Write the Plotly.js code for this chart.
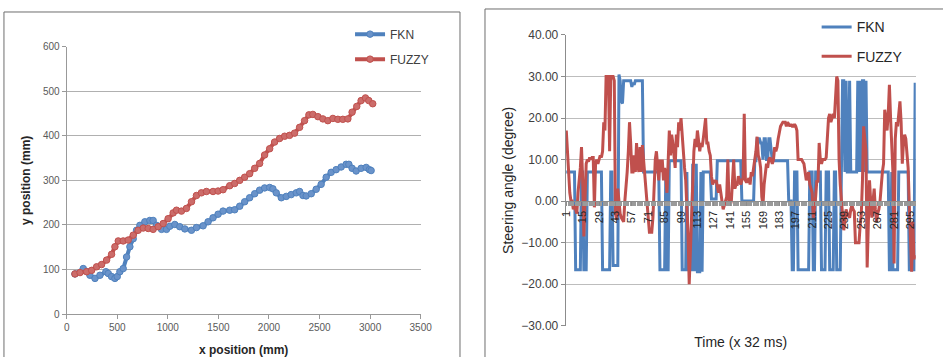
<!DOCTYPE html>
<html>
<head>
<meta charset="utf-8">
<script src="https://cdn.plot.ly/plotly-3.0.1.min.js"></script>
<style>html,body{margin:0;padding:0;background:#fff;}#chart{width:943px;height:357px;}</style>
</head>
<body>
<div id="chart"></div>
<script>
// ---- Left chart: trajectory (x position vs y position, mm) ----
const fknX = [82,164,204,230,280,329,388,411,444,477,500,526,559,592,625,658,691,724,773,822,855,888,938,987,1020,1069,1118,1168,1234,1283,1349,1398,1447,1497,1546,1612,1661,1711,1760,1809,1859,1908,1957,2007,2039,2072,2122,2171,2220,2270,2303,2336,2368,2418,2467,2516,2566,2615,2664,2714,2763,2790,2822,2862,2911,2961,2993,3010];
const fknY = [90,102,95,87,80,87,95,91,84,80,84,95,102,128,151,169,188,199,207,210,210,199,190,190,197,201,196,191,188,194,198,207,216,224,231,233,234,242,252,261,270,278,283,284,281,272,261,264,268,272,275,266,265,270,280,291,307,318,324,330,336,336,327,321,327,329,324,322];
const fuzzyX = [82,132,197,247,296,345,395,444,477,510,559,608,658,707,757,806,855,905,954,1003,1053,1086,1135,1184,1234,1283,1332,1382,1447,1497,1546,1612,1661,1711,1760,1809,1859,1908,1957,2007,2056,2105,2155,2204,2253,2303,2352,2395,2434,2484,2533,2582,2632,2681,2730,2780,2822,2868,2911,2954,2987,3026];
const fuzzyY = [90,93,95,98,106,111,121,134,151,164,164,166,177,188,193,192,190,196,203,214,227,233,231,237,252,266,272,275,275,276,279,288,293,300,307,315,327,338,357,371,386,394,399,401,406,419,434,447,448,443,438,434,439,437,437,438,453,466,479,485,479,472];

// ---- Right chart: steering angle (degree) per time step (x 32 ms) ----
const steerFKN = [
 7,7,7,7,7,7,7,7,-16.5,-16.5,
 -16.5,-16.5,-16.5,7,7,-16.5,-16.5,-16.5,7,7,
 7,7,7,7,7,7,7,7,7,7,
 7,-16.5,-16.5,-16.5,-16.5,-16.5,-16.5,-16.5,7,7,
 -15.5,-15.5,-15.5,-15.5,-15.5,30.5,29,24,23.5,29,
 29,29,29,29,29,29,27.5,28.5,28,29,
 29,29,29,29,29,29,7,7,7,7,
 7,7,7,7,7,7,7,7,7,7,
 -16.5,-16.5,-16.5,-16.5,-16.5,7,-16.5,-16.5,9.7,9.7,
 9.7,9.7,9.7,9.7,9.7,9.7,9.7,9.7,9.7,-16.5,
 -16.5,-16.5,-16.5,7,-16.5,-16.5,-16.5,-16.5,9,-16.5,
 -16.5,9,-17,-17,-17,7,-17,7,7,7,
 7,7,7,7,0.5,0.5,0.5,0.5,0.5,9.7,
 9.7,9.7,9.7,9.7,9.7,9.7,9.7,9.7,9.7,9.7,
 9.7,9.7,9.7,9.7,9.7,9.7,9.7,9.7,9.7,9.7,
 0,0,0,0,0,0,0,0,0,0,
 0,9.7,9.7,15,15,15,14,14,10,15,
 15,10,10,15,15,12,9.7,9.7,9.7,9.7,
 9.7,9.7,9.7,9.7,9.7,9.7,9.7,9.7,9.7,9.7,
 0,0,0,-16.5,-16.5,7,7,7,-16.5,-16.5,
 -16.5,-16.5,-16.5,-16.5,-16.5,-16.5,-16.5,-16.5,7,7,
 7,-16.5,-16.5,7,7,7,7,7,-16.5,-16.5,
 -16.5,-16.5,7,7,7,-16.5,-16.5,-16.5,-16.5,7,
 7,-16.5,-16.5,-16.5,-16.5,7,29,29,7,29,
 7,7,29,7,7,7,7,7,7,29,
 7,29,7,29,29,7,29,7,7,7,
 7,7,7,7,7,7,7,7,7,7,
 7,7,7,7,7,7,-16.5,-16.5,7,-16.5,
 -16.5,-16.5,-16.5,-16.5,7,7,7,7,7,7,
 7,7,7,-16.5,-16.5,-16.5,-16.5,-16.5,28.5
];
const steerFUZZY = [
 17,12,5,2,0,0,-2,-1,-2,-3,
 2,5,8,13,5,-8.5,3,9,10,9.5,
 10.5,10,10.5,10.5,-1.5,9,10,9,10,11,
 10.5,12,19,17,30,30,30,12,30,30,
 30,29,-3,-4.5,3,0,-3,-4,-4.5,-5,
 0,3,7,12,19,14,7,7,11,7,
 14,9,7,13,7,13.5,10,6,3,-1,
 -4,-7.5,-7.5,-7.5,-4,3,10,12,8,5,
 10,7,10,5,8,6,2,9,17,11,
 16,14,11,8,16,13,19,17,20,15,
 11,8,5,-2,-8,-20,-12,-3,8,12,
 15,13,17,14,12,14,13,15,17.5,20,
 14,14,12,11,6,4,5,4.5,5,3,
 2,4,2,0,-2,-1,0,1,10,0,
 -1,0,5,10,3,4,4,6,5,4,
 5,5.5,21,5,4.5,5,5.5,4,7,6,
 8,10,12,15.5,11,10,8,1,-1,4,
 7,9,8,10,10.5,9.5,9,10,13,12,
 13,15,17,18,18.5,19,19,19,18,19,
 18.5,18,18.5,18,18,18.5,18,17,10,10,
 10,10,9.5,9,7,5,6,7,4,3,
 2,-4,-2,1,5,4.5,14,10,9,10,
 10,10,10.5,15,20,21,19,20,21,20,
 24,30,29,10,4,0,-3,-7,-5,-2,
 -3,-3.5,-4,-2,-1,-2,-2.5,-10,-10,-10,
 -10,-6,-3,5,18,15,12,-16,-2,5,
 0,-4,0,3,-2,-5,-3,-2,0,5,
 7,9,22,20,17,21,28,20,12,7,
 -15,15,19,18,21,24,19,9,14,16,
 15,12,8,-1,-12,-17,-5,-14,-13
];
const timeTicks = [1,15,29,43,57,71,85,99,113,127,141,155,169,183,197,211,225,239,253,267,281,295];
const timeTickLabels = ['1','15','29','43','57','71','85','99','113','127','141','155','169','183','197','211','225','239','253','267','281','295'];

const BLUE = '#4f81bd', RED = '#c0504d';
const FONT = 'Liberation Sans, Arial, sans-serif';

const traces = [
  {x: fknX, y: fknY, name: 'FKN', type: 'scatter', mode: 'lines+markers', xaxis: 'x', yaxis: 'y',
   legend: 'legend', legendgroup: 'a1',
   line: {color: BLUE, width: 4}, marker: {size: 6.5, color: '#6a93ca', line: {color: BLUE, width: 1}}},
  {x: fuzzyX, y: fuzzyY, name: 'FUZZY', type: 'scatter', mode: 'lines+markers', xaxis: 'x', yaxis: 'y',
   legend: 'legend', legendgroup: 'a2',
   line: {color: RED, width: 4}, marker: {size: 6.5, color: '#cc6c6a', line: {color: RED, width: 1}}},
  {y: steerFKN, x0: 1, dx: 1, name: 'FKN', type: 'scatter', mode: 'lines', xaxis: 'x2', yaxis: 'y2',
   legend: 'legend2', legendgroup: 'b1',
   line: {color: BLUE, width: 3}},
  {y: steerFUZZY, x0: 1, dx: 1, name: 'FUZZY', type: 'scatter', mode: 'lines', xaxis: 'x2', yaxis: 'y2',
   legend: 'legend2', legendgroup: 'b2',
   line: {color: RED, width: 3}}
];

const layout = {
  width: 943, height: 357,
  margin: {l: 0, r: 0, t: 0, b: 0},
  paper_bgcolor: '#ffffff', plot_bgcolor: 'rgba(0,0,0,0)',
  font: {family: FONT, color: '#404040'},
  xaxis: {
    domain: [0.0707, 0.4461], anchor: 'y', range: [0, 3500], dtick: 500, tick0: 0,
    showgrid: false, zeroline: false, showline: true, linecolor: '#999999', linewidth: 1,
    ticks: 'outside', ticklen: 4, tickcolor: '#999999',
    tickfont: {size: 10, color: '#595959'},
    title: {text: 'x position (mm)', font: {size: 12, weight: 'bold', color: '#262626'}, standoff: 14}
  },
  yaxis: {
    domain: [0.1204, 0.8692], anchor: 'x', range: [0, 600], dtick: 100, tick0: 0,
    showgrid: true, gridcolor: '#b0b0b0', gridwidth: 1, zeroline: false,
    showline: true, linecolor: '#999999', linewidth: 1,
    ticks: 'outside', ticklen: 4, tickcolor: '#999999',
    tickfont: {size: 10, color: '#595959'},
    title: {text: 'y position (mm)', font: {size: 12, weight: 'bold', color: '#262626'}, standoff: 9}
  },
  xaxis2: {
    domain: [0.5999, 0.9711], anchor: 'free', position: 0.437, range: [0.5, 299.5],
    tickmode: 'array', tickvals: timeTicks, ticktext: timeTickLabels, tickangle: -90,
    showgrid: false, zeroline: false, showline: true, linecolor: '#8c8c8c', linewidth: 1.5,
    ticks: 'outside', ticklen: 4, tickcolor: '#8c8c8c',
    minor: {tickmode: 'linear', tick0: 0.5, dtick: 1, ticks: 'outside', ticklen: 4, tickcolor: '#9a9a9a', showgrid: false},
    tickfont: {size: 11, color: '#262626'},
    title: {text: 'Time (x 32 ms)', font: {size: 14, color: '#262626'}, standoff: 109}
  },
  yaxis2: {
    domain: [0.0877, 0.9020], anchor: 'x2', range: [-30, 40], dtick: 10, tick0: 0, tickformat: '.2f',
    showgrid: true, gridcolor: '#bdbdbd', gridwidth: 1, zeroline: false,
    showline: true, linecolor: '#8c8c8c', linewidth: 1,
    ticks: 'outside', ticklen: 4, tickcolor: '#8c8c8c',
    tickfont: {size: 12, color: '#404040'},
    title: {text: 'Steering angle (degree)', font: {size: 14, color: '#262626'}, standoff: 4}
  },
  legend: {
    x: 0.3712, xanchor: 'left', y: 0.945, yanchor: 'top', bgcolor: '#ffffff', borderwidth: 0,
    traceorder: 'grouped', tracegroupgap: 6, itemwidth: 30,
    font: {size: 12, color: '#404040'}
  },
  legend2: {
    x: 0.866, xanchor: 'left', y: 0.968, yanchor: 'top', bgcolor: '#ffffff', borderwidth: 0,
    traceorder: 'grouped', tracegroupgap: 8, itemwidth: 30,
    font: {size: 14, color: '#262626'}
  },
  shapes: [
    {type: 'rect', xref: 'paper', yref: 'paper', x0: 0.0042, x1: 0.4878, y0: -0.1, y1: 0.9664,
     line: {color: '#6e6e6e', width: 1}, fillcolor: 'rgba(0,0,0,0)', layer: 'below'},
    {type: 'rect', xref: 'paper', yref: 'paper', x0: 0.5143, x1: 1.05, y0: -0.1, y1: 0.9748,
     line: {color: '#6e6e6e', width: 1}, fillcolor: 'rgba(0,0,0,0)', layer: 'below'}
  ],
  showlegend: true
};

Plotly.newPlot('chart', traces, layout, {displayModeBar: false, staticPlot: true});
</script>
</body>
</html>
